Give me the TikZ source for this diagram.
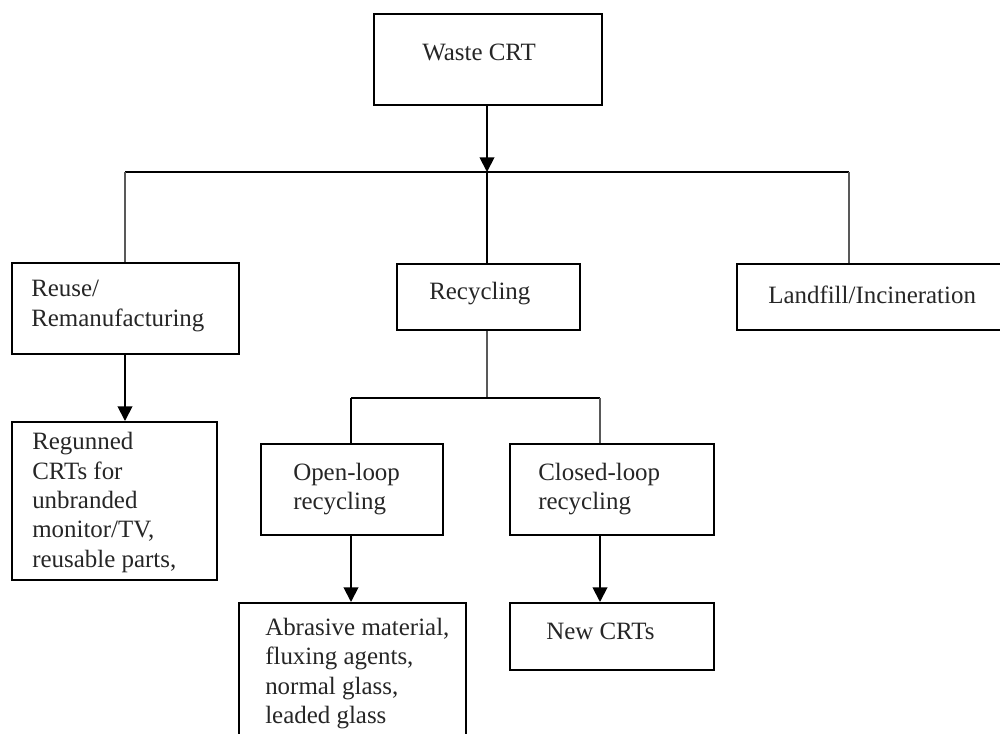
\documentclass[tikz,border=0pt]{standalone}
\usepackage{fontspec}
\setmainfont{Liberation Serif}
\usetikzlibrary{arrows.meta}
\begin{document}
\begin{tikzpicture}[x=0.75pt,y=-0.75pt,
  box/.style={draw, line width=1.4pt, inner sep=0pt, anchor=north west},
  txt/.style={font=\fontsize{18.7}{22}\selectfont, align=left, inner sep=0pt, anchor=west, text=black!85},
  conn/.style={line width=1.4pt},
  thin/.style={line width=0.9pt, draw=black!65},
  arr/.style={line width=1.4pt, -{Triangle[length=11pt,width=11pt]}}]
\useasboundingbox (0,0) rectangle (1000,733);
\fill[white] (0,0) rectangle (1000,733);
\clip (0,0) rectangle (1000,733);

% boxes
\node[box, minimum width=171pt, minimum height=68.25pt] (waste) at (373,13) {};
\node[box, minimum width=170.25pt, minimum height=68.25pt] (reuse) at (11,262) {};
\node[box, minimum width=137.25pt, minimum height=49.5pt] (recyc) at (396,263) {};
\node[box, minimum width=201.75pt, minimum height=49.5pt] (land) at (736,263) {};
\node[box, minimum width=153.75pt, minimum height=118.5pt] (regun) at (11,421) {};
\node[box, minimum width=136.5pt, minimum height=68.25pt] (open) at (260,443) {};
\node[box, minimum width=153pt, minimum height=68.25pt] (closed) at (509,443) {};
\node[box, minimum width=170.25pt, minimum height=102pt] (abr) at (238,602) {};
\node[box, minimum width=153pt, minimum height=50.25pt] (newcrt) at (509,602) {};

% texts
\node[txt] (wasteT) at (422,52.5) {Waste CRT};
\node[txt] (reuseT) at (31,306) {Reuse/\\Remanufacturing};
\node[txt] (recycT) at (429,294) {Recycling};
\node[txt] (landT) at (768,295) {Landfill/Incineration};
\node[txt] (regunT) at (32,502.5) {Regunned\\CRTs for\\unbranded\\monitor/TV,\\reusable parts,};
\node[txt] (openT) at (293,489) {Open-loop\\recycling};
\node[txt] (closedT) at (538,489) {Closed-loop\\recycling};
\node[txt] (abrT) at (265,673.5) {Abrasive material,\\fluxing agents,\\normal glass,\\leaded glass};
\node[txt] (newT) at (546,631) {New CRTs};

% junction coordinates
\coordinate (jm) at (487,172);
\coordinate (jl) at (125,172);
\coordinate (jr) at (849,172);
\coordinate (km) at (487,398);
\coordinate (kl) at (351,398);
\coordinate (kr) at (600,398);

% connectors
\draw[arr] (waste.south -| jm) -- (jm);
\draw[conn] (jl) -- (jr);
\draw[thin] (jl) -- (jl |- reuse.north);
\draw[conn] (jm) -- (jm |- recyc.north);
\draw[thin] (jr) -- (jr |- land.north);
\draw[arr] (reuse.south -| jl) -- (jl |- regun.north);
\draw[thin] (recyc.south -| km) -- (km);
\draw[conn] (kl) -- (kr);
\draw[conn] (kl) -- (kl |- open.north);
\draw[thin] (kr) -- (kr |- closed.north);
\draw[arr] (open.south -| kl) -- (kl |- abr.north);
\draw[arr] (closed.south -| kr) -- (kr |- newcrt.north);
\end{tikzpicture}
\end{document}
